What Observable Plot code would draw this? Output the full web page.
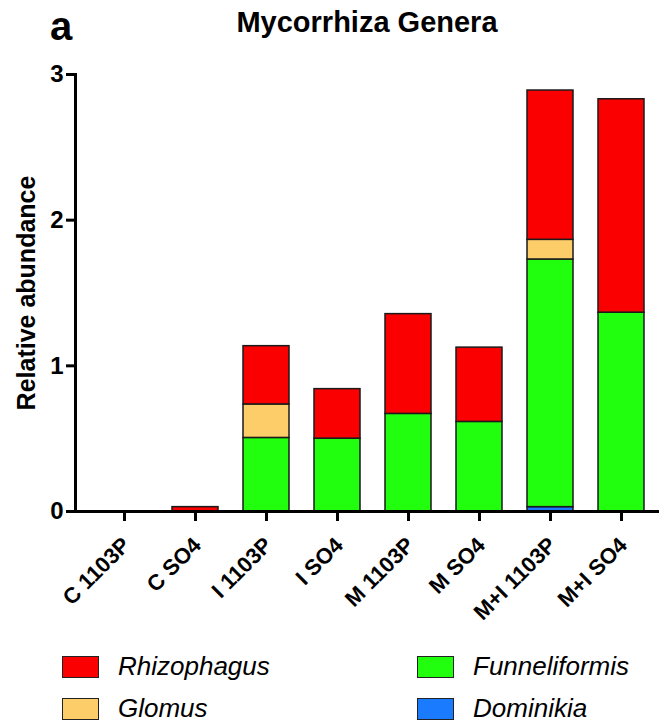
<!DOCTYPE html>
<html>
<head>
<meta charset="utf-8">
<script src="https://cdn.jsdelivr.net/npm/d3@7"></script>
<script src="https://cdn.jsdelivr.net/npm/@observablehq/plot@0.6"></script>
<style>
  html, body { margin: 0; padding: 0; background: #fff; }
  #wrap { position: relative; width: 659px; height: 725px; font-family: "Liberation Sans", Arial, sans-serif; overflow: hidden; }
  #panel { position: absolute; left: 50px; top: 4px; font-size: 40px; font-weight: bold; line-height: 1.1; }
  #title { position: absolute; left: 75px; width: 584px; top: 7px; text-align: center; font-size: 29px; font-weight: bold; line-height: 1.1; }
  #chart { position: absolute; left: 0; top: 56px; }
  .leg { position: absolute; display: flex; align-items: center; font-style: italic; font-size: 26px; }
  .sw { width: 37px; height: 22px; border: 1.5px solid #222; box-sizing: border-box; margin-right: 19px; }
</style>
</head>
<body>
<div id="wrap">
  <div id="panel">a</div>
  <div id="title">Mycorrhiza Genera</div>
  <div id="chart"></div>
  <div id="legend"></div>
</div>
<script>
const groups = ["C 1103P", "C SO4", "I 1103P", "I SO4", "M 1103P", "M SO4", "M+I 1103P", "M+I SO4"];
const genera = ["Dominikia", "Funneliformis", "Glomus", "Rhizophagus"]; // stacking order, bottom to top
const colors = ["#1a7bff", "#22ff0e", "#fdcd6a", "#fa0000"];
const dominikia     = [0, 0,    0,     0,    0,     0,     0.03,  0];
const funneliformis = [0, 0,    0.505, 0.50, 0.67,  0.615, 1.70,  1.365];
const glomus        = [0, 0,    0.23,  0,    0,     0,     0.135, 0];
const rhizophagus   = [0, 0.03, 0.40,  0.34, 0.685, 0.51,  1.025, 1.465];
const yTicks = [0, 1, 2, 3];
const legendOrder = ["Rhizophagus", "Funneliformis", "Glomus", "Dominikia"];

const series = {Dominikia: dominikia, Funneliformis: funneliformis, Glomus: glomus, Rhizophagus: rhizophagus};
const data = [];
for (const g of genera) {
  groups.forEach((grp, i) => {
    if (series[g][i] > 0) data.push({group: grp, genus: g, value: series[g][i]});
  });
}

const chart = Plot.plot({
  width: 659,
  height: 575,
  marginLeft: 75,
  marginRight: 0,
  marginTop: 18,
  marginBottom: 120,
  style: {fontFamily: "'Liberation Sans', Arial, sans-serif", fontWeight: "bold", color: "#000", background: "transparent"},
  x: {domain: groups, range: [86.25, 658.25], paddingInner: 0.357, paddingOuter: 0.1785},
  y: {domain: [0, 3]},
  color: {domain: genera, range: colors},
  marks: [
    Plot.barY(data, Plot.stackY({x: "group", y: "value", fill: "genus", stroke: "#1a1a1a", strokeWidth: 1.5, order: genera})),
    Plot.axisY({ticks: yTicks, tickSize: 9, tickPadding: 3, strokeWidth: 3, fontSize: 24, fontWeight: "bold",
      label: "Relative abundance", labelAnchor: "center", labelArrow: "none", labelOffset: 58, tickFormat: d3.format("d")}),
    // tick marks only
    Plot.axisX({tickSize: 10, strokeWidth: 3, tickFormat: () => "", label: null}),
    // rotated tick labels only
    Plot.axisX({tickSize: 0, tickPadding: 14, fontSize: 22, fontWeight: "bold", tickRotate: -45, label: null, dy: 16, dx: 2}),
    Plot.frame({anchor: "left", strokeWidth: 3}),
    Plot.ruleY([0], {strokeWidth: 3})
  ]
});
document.getElementById("chart").appendChild(chart);
// larger axis title
chart.querySelectorAll("g[aria-label='y-axis label'] text").forEach(t => t.setAttribute("font-size", 25));

// legend
const legPos = {
  Rhizophagus: [62, 655],
  Glomus: [62, 697],
  Funneliformis: [417, 655],
  Dominikia: [417, 697]
};
const leg = document.getElementById("legend");
for (const g of legendOrder) {
  const el = document.createElement("div");
  el.className = "leg";
  el.style.left = legPos[g][0] + "px";
  el.style.top = (legPos[g][1] - 4) + "px";
  const sw = document.createElement("div");
  sw.className = "sw";
  sw.style.background = colors[genera.indexOf(g)];
  el.appendChild(sw);
  const t = document.createElement("span");
  t.textContent = g;
  el.appendChild(t);
  leg.appendChild(el);
}
</script>
</body>
</html>
